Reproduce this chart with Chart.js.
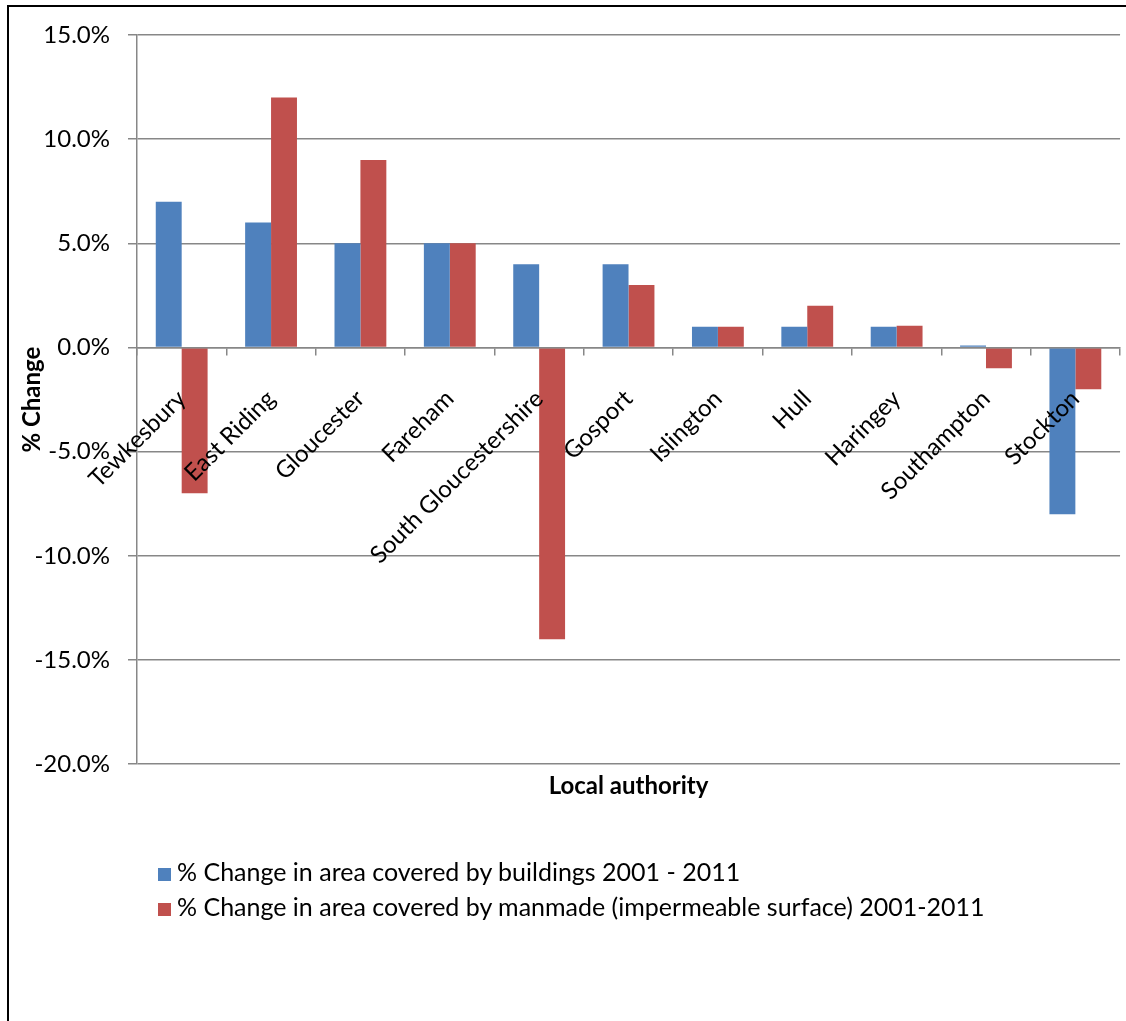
<!DOCTYPE html>
<html>
<head>
<meta charset="utf-8">
<script src="https://cdn.jsdelivr.net/npm/chart.js@4.4.1/dist/chart.umd.min.js"></script>
<style>
  body { margin: 0; background: #fff; }
  #wrap { position: absolute; left: 0; top: 0; width: 1126px; height: 1021px; }
  #frame { position: absolute; left: 7px; top: 5px; width: 1200px; height: 1100px;
           border-left: 2px solid #000; border-top: 2px solid #000; }
  #legend { position: absolute; left: 158px; top: 854px; font-family: Lato, sans-serif;
            font-size: 25px; color: #000; }
  #legend div { height: 35px; line-height: 35px; white-space: nowrap; }
  #legend span.box { display: inline-block; width: 13px; height: 13px; margin-right: 6px; vertical-align: 0px; }
</style>
</head>
<body>
<div id="wrap">
  <div id="frame"></div>
  <canvas id="ChartCanvas"></canvas>
  <div id="legend"></div>
</div>
<script>
const authorities = ['Tewkesbury', 'East Riding', 'Gloucester', 'Fareham', 'South Gloucestershire',
  'Gosport', 'Islington', 'Hull', 'Haringey', 'Southampton', 'Stockton'];
const buildings = [7, 6, 5, 5, 4, 4, 1, 1, 1, 0.1, -8];
const manmade = [-7, 12, 9, 5, -14, 3, 1, 2, 1.05, -1, -2];
const seriesNames = ['% Change in area covered by buildings 2001 - 2011',
  '% Change in area covered by manmade (impermeable surface) 2001-2011'];
const seriesColors = ['#4F81BD', '#C0504D'];
const yTicks = [15, 10, 5, 0, -5, -10, -15, -20];

const gridGray = '#878787';
const font = { family: 'Lato, sans-serif', size: 24 };
const boldFont = { family: 'Lato, sans-serif', size: 24, weight: 'bold' };

const legendEl = document.getElementById('legend');
seriesNames.forEach((name, i) => {
  const row = document.createElement('div');
  const box = document.createElement('span');
  box.className = 'box';
  box.style.background = seriesColors[i];
  row.appendChild(box);
  row.appendChild(document.createTextNode(name));
  legendEl.appendChild(row);
});

new Chart(document.getElementById('ChartCanvas'), {
  type: 'bar',
  data: {
    labels: authorities,
    datasets: [{
      label: seriesNames[0],
      data: buildings,
      backgroundColor: seriesColors[0],
      categoryPercentage: 0.58,
      barPercentage: 1
    }, {
      label: seriesNames[1],
      data: manmade,
      backgroundColor: seriesColors[1],
      categoryPercentage: 0.58,
      barPercentage: 1
    }]
  },
  options: {
    animation: false,
    responsive: true,
    maintainAspectRatio: false,
    layout: { padding: { left: 0, right: 3, top: 35, bottom: 212 } },
    scales: {
      x: {
        position: { y: 0 },
        afterFit: scale => { scale.height = 0; },
        grid: { drawOnChartArea: false, drawTicks: true, tickLength: 7, color: gridGray, lineWidth: 1.5, offset: true },
        border: { color: gridGray, width: 1.5, z: 1 },
        ticks: { color: '#000', font: font, minRotation: 45, maxRotation: 45, autoSkip: false, padding: 30, z: 2 }
      },
      x2: {
        type: 'category',
        labels: authorities,
        position: 'bottom',
        grid: { display: false, drawTicks: false },
        border: { display: false },
        ticks: { display: false },
        title: { display: true, text: 'Local authority', color: '#000', font: boldFont, padding: { top: 8, bottom: 8 } }
      },
      y: {
        min: -20,
        max: 15,
        afterFit: scale => { scale.width = 137; },
        afterBuildTicks: scale => { scale.ticks = yTicks.map(v => ({ value: v })); },
        grid: { color: gridGray, lineWidth: 1.5, tickLength: 9 },
        border: { color: gridGray, width: 1.5 },
        ticks: { color: '#000', font: font, padding: 18, callback: v => v.toFixed(1) + '%' },
        title: { display: true, text: '% Change', color: '#000', font: boldFont, padding: { top: 18, bottom: 0 } }
      }
    },
    plugins: {
      legend: { display: false },
      tooltip: { enabled: false }
    }
  }
});
</script>
</body>
</html>
